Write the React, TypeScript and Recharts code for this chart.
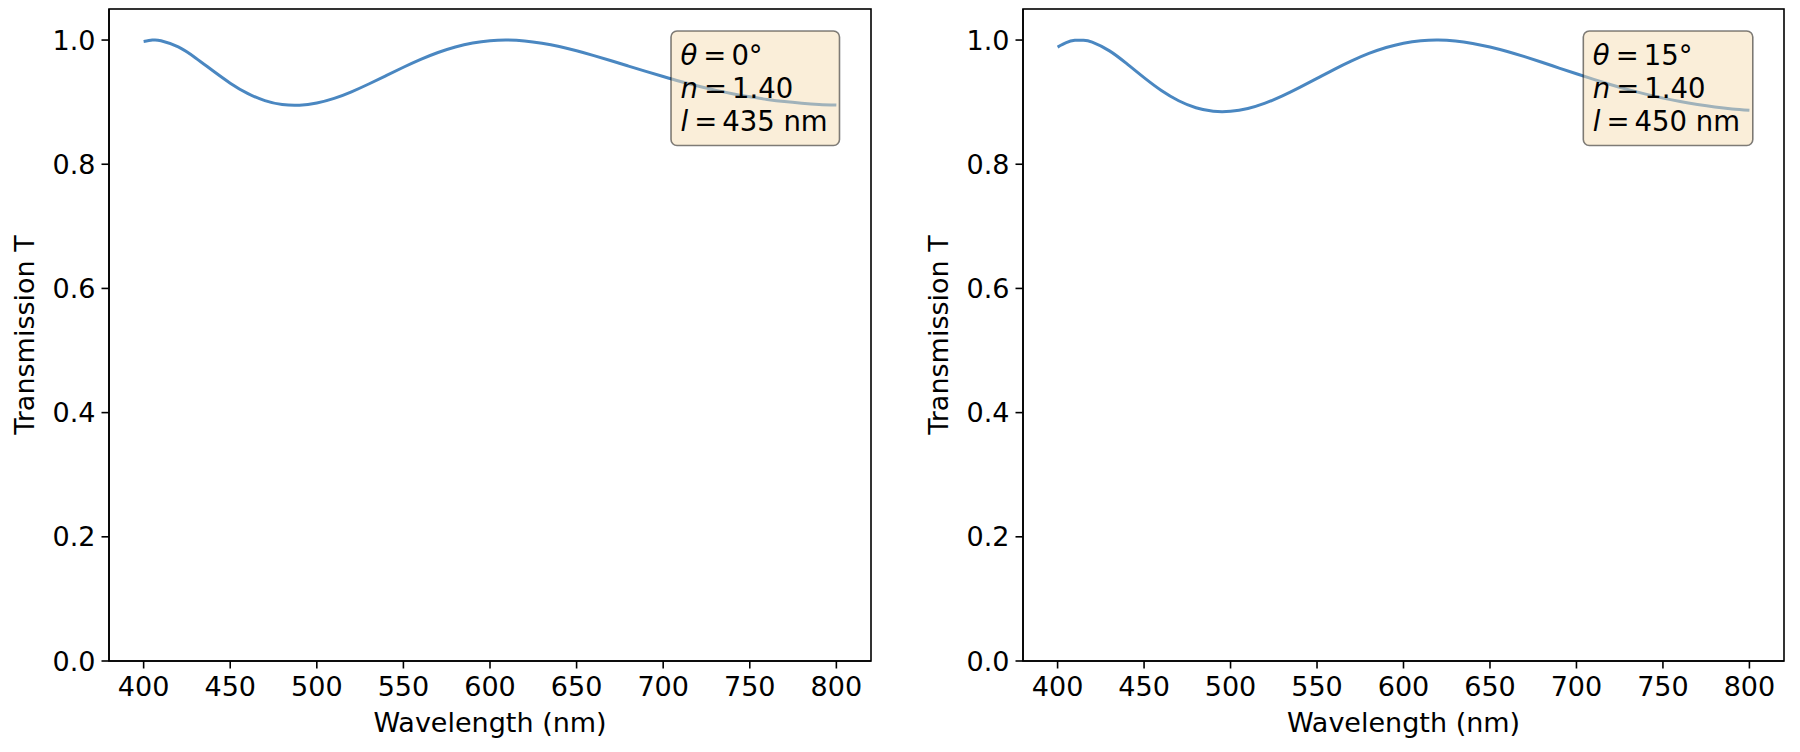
import React from 'react';
import { LineChart, Line, XAxis, YAxis, Label } from 'recharts';

// ---------- data ----------
const leftWavelengths = [400, 405, 410, 420, 430, 440, 450, 460, 470, 480, 490, 500, 510, 520, 530, 540, 550, 560, 570, 580, 590, 600, 610, 620, 630, 640, 650, 660, 670, 680, 690, 700, 710, 720, 730, 740, 750, 760, 770, 780, 790, 800];
const leftTransmission = [0.9977, 0.9999, 0.999, 0.9889, 0.9712, 0.9505, 0.9306, 0.9141, 0.9025, 0.8961, 0.895, 0.8986, 0.906, 0.9166, 0.9292, 0.9427, 0.9562, 0.9689, 0.98, 0.9889, 0.9953, 0.999, 1.0, 0.9986, 0.9949, 0.9896, 0.9828, 0.975, 0.9667, 0.9581, 0.9495, 0.9412, 0.9333, 0.9261, 0.9194, 0.9136, 0.9086, 0.9044, 0.9009, 0.8983, 0.8964, 0.8953];

const rightWavelengths = [400, 405, 410, 415, 420, 430, 440, 450, 460, 470, 480, 490, 500, 510, 520, 530, 540, 550, 560, 570, 580, 590, 600, 610, 620, 630, 640, 650, 660, 670, 680, 690, 700, 710, 720, 730, 740, 750, 760, 770, 780, 790, 800];
const rightTransmission = [0.9887, 0.9958, 0.9995, 0.9997, 0.9966, 0.9826, 0.9619, 0.9394, 0.9187, 0.9022, 0.8909, 0.8853, 0.8852, 0.8898, 0.8984, 0.91, 0.9237, 0.9382, 0.9529, 0.9665, 0.9784, 0.988, 0.9949, 0.9989, 1.0, 0.9985, 0.9946, 0.9889, 0.9816, 0.9732, 0.9642, 0.9549, 0.9457, 0.9367, 0.9281, 0.9201, 0.9129, 0.9065, 0.9009, 0.8962, 0.8922, 0.8891, 0.8869];

const xTicks = [400, 450, 500, 550, 600, 650, 700, 750, 800];
const yTicks = [0, 0.2, 0.4, 0.6, 0.8, 1.0];
const xDomain: [number, number] = [380, 820];
const yDomain: [number, number] = [0, 1.05];

const xTitle = 'Wavelength (nm)';
const yTitle = 'Transmission T';

const leftParams = { theta: '0°', n: '1.40', l: '435 nm' };
const rightParams = { theta: '15°', n: '1.40', l: '450 nm' };

// ---------- style ----------
const FONT = '"DejaVu Sans", Verdana, sans-serif';
const FS = 27;
const BOX_FS = 27.5;
const LINE_COLOR = '#4a87c1';
const AXIS = '#000';
const CH_W = 900;
const CH_H = 752;
const TOP = 9;
const XAXIS_H = 91;

const buildData = (xs: number[], ys: number[]) => xs.map((wl, i) => ({ wl, T: ys[i] }));

const XTitle = (props: any) => {
  const vb = props.viewBox || {};
  return (
    <text x={vb.x + vb.width / 2} y={vb.y + 70.5} textAnchor="middle" fontSize={FS} fontFamily={FONT} fill="#000">
      {xTitle}
    </text>
  );
};

const YTitle = (props: any) => {
  const vb = props.viewBox || {};
  const x = vb.x + vb.width - 75.5;
  const y = vb.y + vb.height / 2;
  return (
    <text x={x} y={y} transform={`rotate(-90, ${x}, ${y})`} textAnchor="middle" fontSize={FS} fontFamily={FONT} fill="#000">
      {yTitle}
    </text>
  );
};

type PanelProps = {
  xs: number[];
  ys: number[];
  params: { theta: string; n: string; l: string };
  left: number;
  yAxisWidth: number;
  marginRight: number;
  boxOffset: number;
  boxWidth: number;
};

function Panel({ xs, ys, params, left, yAxisWidth, marginRight, boxOffset, boxWidth }: PanelProps) {
  const data = buildData(xs, ys);
  const plotLeft = yAxisWidth;
  const plotW = CH_W - yAxisWidth - marginRight;
  const plotH = CH_H - TOP - XAXIS_H;
  const bx = plotLeft + boxOffset;
  const by = 31;
  const tx = bx + 9.5;
  return (
    <div style={{ position: 'absolute', left, top: 0, width: CH_W, height: CH_H }}>
      <LineChart width={CH_W} height={CH_H} data={data} margin={{ top: TOP, right: marginRight, bottom: 0, left: 0 }}>
        <XAxis
          dataKey="wl"
          type="number"
          domain={xDomain}
          ticks={xTicks}
          interval={0}
          allowDataOverflow
          height={XAXIS_H}
          tickSize={7.5}
          tickMargin={8}
          tick={{ fontSize: FS, fill: '#000', fontFamily: FONT }}
          tickLine={{ stroke: AXIS, strokeWidth: 1.6 }}
          axisLine={{ stroke: AXIS, strokeWidth: 1.6 }}
        >
          <Label content={XTitle} />
        </XAxis>
        <YAxis
          type="number"
          domain={yDomain}
          ticks={yTicks}
          interval={0}
          allowDataOverflow
          width={yAxisWidth}
          tickSize={7.5}
          tickMargin={6}
          tickFormatter={(v: number) => v.toFixed(1)}
          tick={{ fontSize: FS, fill: '#000', fontFamily: FONT }}
          tickLine={{ stroke: AXIS, strokeWidth: 1.6 }}
          axisLine={{ stroke: AXIS, strokeWidth: 1.6 }}
        >
          <Label content={YTitle} />
        </YAxis>
        <Line
          type="natural"
          dataKey="T"
          stroke={LINE_COLOR}
          strokeWidth={3}
          dot={false}
          activeDot={false}
          isAnimationActive={false}
        />
      </LineChart>
      <svg
        width={CH_W}
        height={CH_H}
        style={{ position: 'absolute', left: 0, top: 0, pointerEvents: 'none' }}
      >
        <rect x={plotLeft} y={TOP} width={plotW} height={plotH} fill="none" stroke={AXIS} strokeWidth={1.6} />
        <rect
          x={bx}
          y={by}
          width={boxWidth}
          height={114.5}
          rx={6}
          ry={6}
          fill="#f5deb3"
          fillOpacity={0.5}
          stroke="#000"
          strokeOpacity={0.5}
          strokeWidth={1.6}
        />
        <g fontFamily={FONT} fontSize={BOX_FS} fill="#000">
          <text x={tx} y={by + 34}>
            <tspan fontStyle="italic">θ</tspan>
            <tspan dx={6}>=</tspan>
            <tspan dx={5}>{params.theta}</tspan>
          </text>
          <text x={tx} y={by + 67}>
            <tspan fontStyle="italic">n</tspan>
            <tspan dx={6}>=</tspan>
            <tspan dx={5}>{params.n}</tspan>
          </text>
          <text x={tx} y={by + 100}>
            <tspan fontStyle="italic">l</tspan>
            <tspan dx={6}>=</tspan>
            <tspan dx={5}>{params.l}</tspan>
          </text>
        </g>
      </svg>
    </div>
  );
}

export default function App() {
  return (
    <div
      style={{
        position: 'absolute',
        left: 0,
        top: 0,
        width: 1800,
        height: 752,
        background: '#fff',
        fontFamily: FONT,
        overflow: 'hidden',
      }}
    >
      <Panel
        xs={leftWavelengths}
        ys={leftTransmission}
        params={leftParams}
        left={0}
        yAxisWidth={109}
        marginRight={29}
        boxOffset={562}
        boxWidth={168.5}
      />
      <Panel
        xs={rightWavelengths}
        ys={rightTransmission}
        params={rightParams}
        left={900}
        yAxisWidth={123}
        marginRight={16}
        boxOffset={560.3}
        boxWidth={169.5}
      />
    </div>
  );
}
